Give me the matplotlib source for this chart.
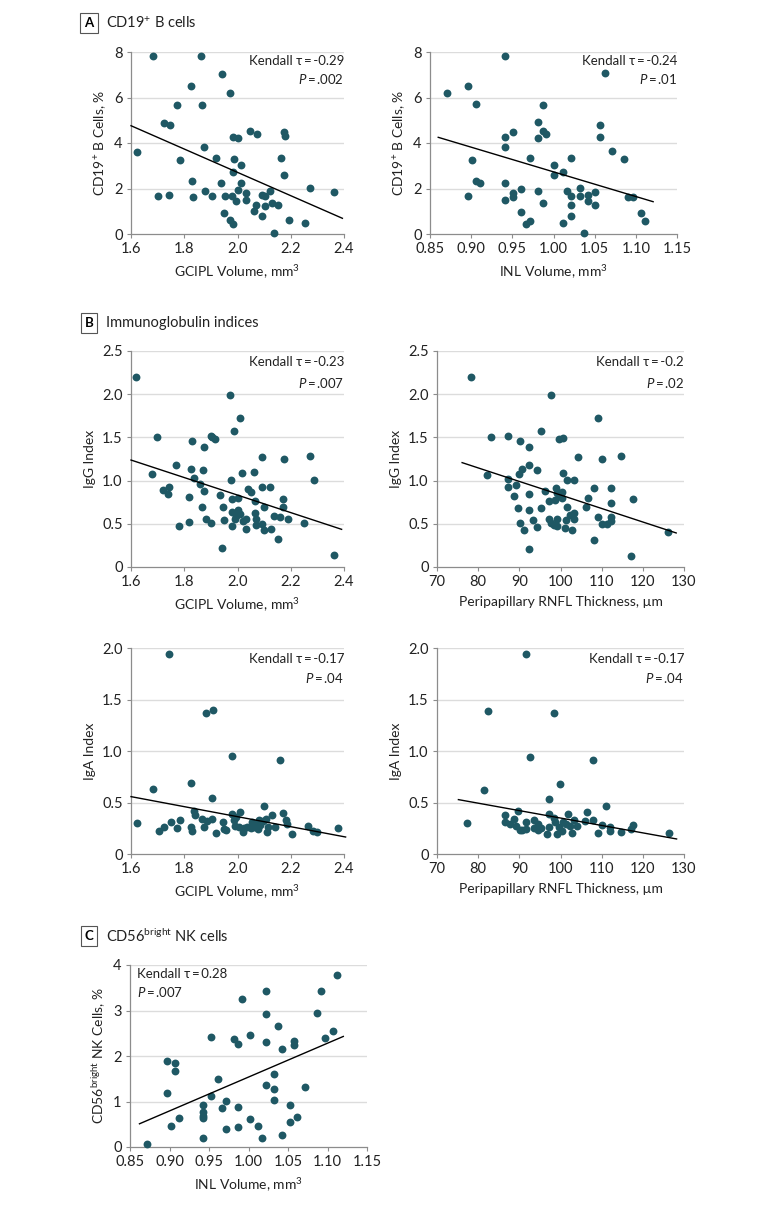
import numpy as np
import matplotlib
matplotlib.use("Agg")
import matplotlib.pyplot as plt

plt.rcParams['font.family'] = ['Lato', 'DejaVu Sans']
plt.rcParams['mathtext.fontset'] = 'custom'
plt.rcParams['mathtext.rm'] = 'Lato'
plt.rcParams['mathtext.it'] = 'Lato:italic'
plt.rcParams['mathtext.bf'] = 'Lato:bold'

# ---- data ----
# A: CD19+ B cells vs GCIPL volume
a1_x = [1.624, 1.684, 1.703, 1.723, 1.748, 1.743, 1.773, 1.783, 1.824, 1.828, 1.833, 1.863,
        1.868, 1.873, 1.878, 1.904, 1.918, 1.938, 1.943, 1.948, 1.953, 1.973, 1.973, 1.983,
        1.978, 1.983, 2.003, 1.983, 1.988, 1.993, 2.003, 2.013, 2.013, 2.033, 2.033, 2.048,
        2.073, 2.068, 2.063, 2.093, 2.093, 2.103, 2.103, 2.123, 2.128, 2.138, 2.153, 2.163,
        2.173, 2.178, 2.173, 2.193, 2.253, 2.274, 2.364]
a1_y = [3.62, 7.81, 1.66, 4.89, 4.81, 1.73, 5.68, 3.24, 6.52, 2.31, 1.61, 7.81,
        5.66, 3.81, 1.90, 1.66, 3.33, 2.23, 7.05, 0.94, 1.67, 6.20, 0.60, 0.45,
        1.67, 4.26, 4.21, 2.73, 3.31, 1.47, 1.95, 2.24, 3.03, 1.80, 1.51, 4.51,
        4.38, 1.26, 1.00, 0.78, 1.73, 1.22, 1.66, 1.90, 1.36, 0.04, 1.29, 3.33,
        4.48, 4.29, 2.61, 0.60, 0.48, 2.01, 1.83]
a1_fit_x = [1.6, 2.394]
a1_fit_y = [4.76, 0.69]

# A: CD19+ B cells vs INL volume
a2_x = [0.871, 0.896, 0.896, 0.901, 0.906, 0.906, 0.911, 0.941, 0.941, 0.941, 0.941, 0.941,
        0.951, 0.951, 0.951, 0.961, 0.961, 0.966, 0.971, 0.971, 0.981, 0.981, 0.981, 0.987,
        0.987, 0.987, 0.991, 1.001, 1.001, 1.011, 1.011, 1.017, 1.021, 1.021, 1.021, 1.021,
        1.032, 1.032, 1.037, 1.042, 1.042, 1.051, 1.051, 1.056, 1.056, 1.062, 1.071, 1.086,
        1.091, 1.096, 1.106, 1.111]
a2_y = [6.21, 6.52, 1.66, 3.24, 5.70, 2.33, 2.24, 7.82, 4.26, 3.81, 2.23, 1.49,
        4.47, 1.80, 1.64, 1.96, 0.98, 0.45, 0.59, 3.34, 4.91, 4.21, 1.89, 5.67,
        4.54, 1.36, 4.40, 3.02, 2.61, 2.74, 0.48, 1.89, 3.34, 1.66, 1.29, 0.78,
        2.01, 1.66, 0.04, 1.73, 1.45, 1.85, 1.29, 4.81, 4.28, 7.06, 3.63, 3.31,
        1.64, 1.61, 0.92, 0.59]
a2_fit_x = [0.860, 1.121]
a2_fit_y = [4.25, 1.42]

# B: IgG index vs GCIPL volume
b1_x = [1.619, 1.679, 1.699, 1.719, 1.739, 1.744, 1.769, 1.779, 1.819, 1.819, 1.825, 1.830,
        1.835, 1.860, 1.865, 1.870, 1.875, 1.875, 1.880, 1.900, 1.905, 1.915, 1.900, 1.936,
        1.941, 1.946, 1.951, 1.971, 1.976, 1.981, 1.981, 1.981, 1.986, 1.991, 1.996, 2.001,
        2.001, 2.011, 2.011, 2.016, 2.021, 2.031, 2.031, 2.041, 2.051, 2.061, 2.066, 2.066,
        2.071, 2.071, 2.091, 2.091, 2.091, 2.101, 2.101, 2.121, 2.126, 2.136, 2.151, 2.161,
        2.171, 2.171, 2.176, 2.191, 2.251, 2.271, 2.286, 2.362]
b1_y = [2.20, 1.08, 1.50, 0.89, 0.85, 0.93, 1.18, 0.47, 0.81, 0.52, 1.13, 1.46,
        1.03, 0.96, 0.70, 1.12, 1.39, 0.88, 0.55, 1.52, 1.50, 1.48, 0.51, 0.83,
        0.22, 0.69, 0.54, 1.99, 1.01, 0.79, 0.64, 0.48, 1.57, 0.55, 0.59, 0.66,
        0.80, 1.73, 0.61, 1.09, 0.53, 0.55, 0.44, 0.90, 0.87, 1.10, 0.76, 0.63,
        0.55, 0.49, 1.27, 0.93, 0.50, 0.43, 0.69, 0.93, 0.44, 0.59, 0.32, 0.58,
        0.70, 0.79, 1.25, 0.56, 0.51, 1.29, 1.01, 0.14]
b1_fit_x = [1.6, 2.391]
b1_fit_y = [1.238, 0.436]

# B: IgG index vs RNFL thickness
b2_x = [78.2, 82.2, 83.2, 87.2, 87.2, 87.2, 88.7, 89.3, 89.7, 89.8, 90.2, 90.2,
        90.7, 91.2, 92.3, 92.3, 92.3, 92.3, 92.3, 93.2, 94.2, 94.2, 95.2, 95.2,
        96.2, 97.2, 97.2, 97.7, 97.7, 98.3, 98.7, 98.9, 99.2, 99.2, 99.2, 99.6,
        99.9, 100.3, 100.3, 100.7, 100.7, 101.2, 101.3, 101.7, 101.7, 102.3, 102.7, 103.2,
        103.2, 103.2, 104.3, 106.2, 106.8, 108.2, 108.2, 109.2, 109.2, 110.2, 110.2, 111.2,
        112.2, 112.2, 112.2, 112.2, 114.7, 117.2, 117.7, 126.2]
b2_y = [2.20, 1.07, 1.51, 1.52, 1.02, 0.93, 0.82, 0.95, 0.68, 1.08, 1.46, 0.51,
        1.14, 0.43, 1.39, 1.18, 0.84, 0.66, 0.21, 0.54, 1.12, 0.46, 1.57, 0.68,
        0.88, 0.76, 0.56, 1.99, 0.51, 0.49, 0.78, 0.91, 0.47, 0.86, 0.55, 1.48,
        0.82, 0.87, 0.80, 1.49, 1.09, 0.45, 0.54, 1.01, 0.69, 0.60, 0.43, 1.01,
        0.55, 0.63, 1.27, 0.70, 0.80, 0.92, 0.31, 1.73, 0.58, 1.25, 0.50, 0.50,
        0.91, 0.74, 0.58, 0.53, 1.29, 0.13, 0.79, 0.41]
b2_fit_x = [76.1, 128.1]
b2_fit_y = [1.208, 0.394]

# B: IgA index vs GCIPL volume
b3_x = [1.623, 1.683, 1.704, 1.724, 1.744, 1.749, 1.774, 1.784, 1.824, 1.827, 1.830, 1.835,
        1.840, 1.865, 1.875, 1.880, 1.885, 1.905, 1.905, 1.908, 1.920, 1.945, 1.951, 1.956,
        1.978, 1.978, 1.986, 1.991, 1.996, 2.006, 2.011, 2.021, 2.026, 2.036, 2.051, 2.056,
        2.061, 2.071, 2.076, 2.081, 2.086, 2.096, 2.101, 2.106, 2.111, 2.116, 2.131, 2.141,
        2.161, 2.171, 2.181, 2.186, 2.205, 2.266, 2.285, 2.300, 2.376]
b3_y = [0.30, 0.63, 0.22, 0.26, 1.94, 0.31, 0.25, 0.33, 0.26, 0.69, 0.22, 0.42,
        0.38, 0.34, 0.26, 1.37, 0.32, 0.34, 0.54, 1.40, 0.20, 0.31, 0.24, 0.23,
        0.95, 0.39, 0.33, 0.27, 0.36, 0.26, 0.41, 0.21, 0.25, 0.26, 0.25, 0.31,
        0.26, 0.29, 0.24, 0.33, 0.28, 0.32, 0.47, 0.34, 0.21, 0.26, 0.38, 0.26,
        0.91, 0.40, 0.33, 0.29, 0.19, 0.27, 0.22, 0.21, 0.25]
b3_fit_x = [1.6, 2.406]
b3_fit_y = [0.557, 0.165]

# B: IgA index vs RNFL thickness
b4_x = [77.3, 81.4, 82.5, 86.5, 86.5, 87.7, 88.6, 89.1, 89.6, 90.1, 90.6, 91.5,
        91.7, 91.7, 92.7, 93.6, 93.6, 94.6, 94.6, 95.3, 96.6, 97.3, 97.3, 97.3,
        98.3, 98.3, 98.7, 99.2, 99.6, 99.9, 100.3, 100.6, 101.3, 101.8, 102.3, 102.9,
        103.2, 104.0, 106.0, 106.5, 108.0, 108.0, 109.0, 110.0, 111.0, 112.0, 112.0, 114.6,
        117.2, 117.7, 126.4]
b4_y = [0.30, 0.62, 1.39, 0.38, 0.31, 0.29, 0.34, 0.27, 0.42, 0.23, 0.23, 0.31,
        1.94, 0.24, 0.94, 0.33, 0.25, 0.29, 0.23, 0.25, 0.19, 0.53, 0.39, 0.26,
        1.37, 0.35, 0.31, 0.19, 0.26, 0.68, 0.22, 0.31, 0.29, 0.39, 0.27, 0.20,
        0.33, 0.27, 0.32, 0.41, 0.91, 0.33, 0.20, 0.28, 0.47, 0.26, 0.22, 0.21,
        0.24, 0.28, 0.20]
b4_fit_x = [75.2, 128.2]
b4_fit_y = [0.528, 0.146]

# C: CD56bright NK cells vs INL volume
c_x = [0.872, 0.897, 0.897, 0.902, 0.907, 0.907, 0.912, 0.942, 0.942, 0.942, 0.942, 0.942,
       0.952, 0.952, 0.962, 0.967, 0.972, 0.972, 0.982, 0.987, 0.987, 0.987, 0.992, 1.002,
       1.002, 1.012, 1.017, 1.022, 1.022, 1.022, 1.022, 1.032, 1.032, 1.032, 1.037, 1.042,
       1.042, 1.052, 1.052, 1.057, 1.057, 1.062, 1.072, 1.087, 1.092, 1.097, 1.107, 1.112]
c_y = [0.07, 1.19, 1.88, 0.47, 1.85, 1.66, 0.64, 0.20, 0.93, 0.77, 0.69, 0.63,
       1.12, 2.42, 1.50, 0.85, 1.02, 0.40, 2.38, 2.27, 0.88, 0.44, 3.25, 2.47,
       0.61, 0.46, 0.20, 1.36, 2.31, 2.92, 3.43, 1.61, 1.28, 1.04, 2.66, 2.16,
       0.26, 0.92, 0.55, 2.34, 2.25, 0.65, 1.31, 2.95, 3.42, 2.40, 2.55, 3.78]
c_fit_x = [0.862, 1.120]
c_fit_y = [0.51, 2.43]

# ---- styling ----
DOT = '#1f5864'
SPINE = '#8c8c8c'
GRID = '#dcdcdc'
TXT = '#222222'
W, H = 780, 1207

fig = plt.figure(figsize=(W / 100, H / 100), dpi=100)


def add_ax(l, r, t, b):
    return fig.add_axes([l / W, 1 - b / H, (r - l) / W, (b - t) / H])


def scatter_panel(ax, x, y, fx, fy, xlim, xticks, xtl, ylim, yticks, ytl,
                  xlabel, ylabel, stat, pval, left_text=False):
    ax.set_xlim(*xlim)
    ax.set_ylim(*ylim)
    ax.set_xticks(xticks)
    ax.set_xticklabels(xtl)
    ax.set_yticks(yticks)
    ax.set_yticklabels(ytl)
    for t in yticks[1:]:
        ax.axhline(t, color=GRID, lw=1.0, zorder=0)
    for s in ['top', 'right']:
        ax.spines[s].set_visible(False)
    for s in ['left', 'bottom']:
        ax.spines[s].set_color(SPINE)
        ax.spines[s].set_linewidth(0.9)
    ax.tick_params(colors=SPINE, labelcolor=TXT, labelsize=10.5,
                   length=3, width=0.8, pad=3)
    ax.scatter(x, y, s=32, color=DOT, linewidths=0, zorder=3, clip_on=False)
    ax.plot(fx, fy, color='black', lw=1.0, zorder=4, clip_on=False)
    ax.set_xlabel(xlabel, fontsize=10, labelpad=5, color=TXT)
    ax.set_ylabel(ylabel, fontsize=10, labelpad=4, color=TXT)
    if left_text:
        xpos, ha = 0.03, 'left'
    else:
        xpos, ha = 1.0, 'right'
    ax.text(xpos, 0.948, 'Kendall τ\u2009=\u2009' + stat, transform=ax.transAxes,
            ha=ha, va='center', fontsize=9.5, color=TXT)
    ax.text(xpos, 0.853, '$P$\u2009=\u2009' + pval, transform=ax.transAxes,
            ha=ha, va='center', fontsize=9.5, color=TXT)


def panel_title(letter, title, y):
    fig.text(89 / W, 1 - y / H, letter, ha='center', va='center', fontsize=9.5,
             fontweight='bold',
             bbox=dict(boxstyle='square,pad=0.3', fc='white', ec='#555555', lw=0.8))
    fig.text(106 / W, 1 - y / H, title, ha='left', va='center', fontsize=10.5,
             color=TXT)


gcipl_ticks = [1.6, 1.8, 2.0, 2.2, 2.4]
gcipl_tl = ['1.6', '1.8', '2.0', '2.2', '2.4']
inl_ticks = [0.85, 0.90, 0.95, 1.00, 1.05, 1.10, 1.15]
inl_tl = ['0.85', '0.90', '0.95', '1.00', '1.05', '1.10', '1.15']
rnfl_ticks = [70, 80, 90, 100, 110, 120, 130]
rnfl_tl = [str(v) for v in rnfl_ticks]
cd19_ticks = [0, 2, 4, 6, 8]
igg_ticks = [0, 0.5, 1.0, 1.5, 2.0, 2.5]
igg_tl = ['0', '0.5', '1.0', '1.5', '2.0', '2.5']
iga_ticks = [0, 0.5, 1.0, 1.5, 2.0]
iga_tl = ['0', '0.5', '1.0', '1.5', '2.0']
nk_ticks = [0, 1, 2, 3, 4]

panel_title('A', 'CD19$^{+}$ B cells', 23)
ax = add_ax(131, 344, 52, 234)
scatter_panel(ax, a1_x, a1_y, a1_fit_x, a1_fit_y, (1.6, 2.4), gcipl_ticks, gcipl_tl,
              (0, 8), cd19_ticks, [str(v) for v in cd19_ticks],
              'GCIPL Volume, mm$^{3}$', 'CD19$^{+}$ B Cells, %', '-0.29', '.002')
ax = add_ax(430, 677, 52, 234)
scatter_panel(ax, a2_x, a2_y, a2_fit_x, a2_fit_y, (0.85, 1.15), inl_ticks, inl_tl,
              (0, 8), cd19_ticks, [str(v) for v in cd19_ticks],
              'INL Volume, mm$^{3}$', 'CD19$^{+}$ B Cells, %', '-0.24', '.01')

panel_title('B', 'Immunoglobulin indices', 323)
ax = add_ax(131, 344, 351, 567)
scatter_panel(ax, b1_x, b1_y, b1_fit_x, b1_fit_y, (1.6, 2.4), gcipl_ticks, gcipl_tl,
              (0, 2.5), igg_ticks, igg_tl,
              'GCIPL Volume, mm$^{3}$', 'IgG Index', '-0.23', '.007')
ax = add_ax(437, 684, 351, 567)
scatter_panel(ax, b2_x, b2_y, b2_fit_x, b2_fit_y, (70, 130), rnfl_ticks, rnfl_tl,
              (0, 2.5), igg_ticks, igg_tl,
              'Peripapillary RNFL Thickness, µm', 'IgG Index', '-0.2', '.02')
ax = add_ax(131, 344, 648, 854)
scatter_panel(ax, b3_x, b3_y, b3_fit_x, b3_fit_y, (1.6, 2.4), gcipl_ticks, gcipl_tl,
              (0, 2.0), iga_ticks, iga_tl,
              'GCIPL Volume, mm$^{3}$', 'IgA Index', '-0.17', '.04')
ax = add_ax(437, 684, 648, 854)
scatter_panel(ax, b4_x, b4_y, b4_fit_x, b4_fit_y, (70, 130), rnfl_ticks, rnfl_tl,
              (0, 2.0), iga_ticks, iga_tl,
              'Peripapillary RNFL Thickness, µm', 'IgA Index', '-0.17', '.04')

panel_title('C', 'CD56$^{\\mathrm{bright}}$ NK cells', 936)
ax = add_ax(130, 367, 965, 1147)
scatter_panel(ax, c_x, c_y, c_fit_x, c_fit_y, (0.85, 1.15), inl_ticks, inl_tl,
              (0, 4), nk_ticks, [str(v) for v in nk_ticks],
              'INL Volume, mm$^{3}$', 'CD56$^{\\mathrm{bright}}$ NK Cells, %', '0.28', '.007',
              left_text=True)

fig.savefig('out.png', dpi=100)
